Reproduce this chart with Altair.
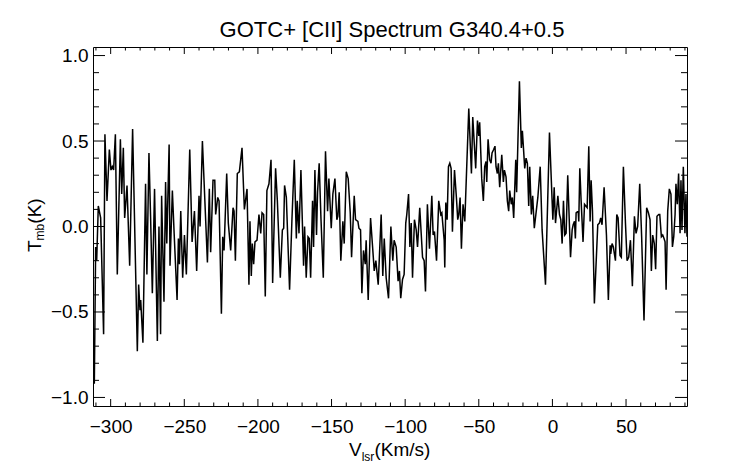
import altair as alt
import pandas as pd

# Spectrum (velocity km/s, T_mb K)
vel = [
    -311.1, -310.2, -309.5, -308.4, -306.8, -304.8, -303.9, -302.5, -300.9, -299.8,
    -298.9, -298.0, -296.8, -295.5, -293.4, -292.5, -291.4, -290.5, -288.9, -287.1,
    -285.1, -281.9, -281.0, -280.1, -279.6, -278.1, -276.3, -275.4, -274.0, -272.9,
    -271.7, -270.2, -268.3, -267.2, -266.1, -265.4, -263.8, -262.7,
    -261.9, -260.3, -259.7, -258.1, -256.9, -254.9, -254.0, -253.3, -252.4, -251.1,
    -249.9, -248.6, -246.3, -244.7, -243.1, -241.6, -240.0, -239.3, -237.7, -234.3,
    -233.0, -232.1, -230.5, -229.3, -228.7, -227.3, -226.4, -224.8, -223.9, -223.0,
    -221.2, -220.1, -218.5, -216.9, -216.2, -215.3, -214.0, -212.6,
    -210.8, -209.2, -207.4, -206.1, -205.4, -204.5, -203.8, -202.9, -202.0, -200.6,
    -199.3, -198.1, -197.2, -196.1, -195.0, -193.9, -192.5, -191.1, -190.0, -188.0,
    -186.8, -184.8, -183.4, -182.5, -181.9, -180.7, -178.5, -176.9, -175.3, -173.9,
    -173.3, -172.1, -170.8, -169.0, -168.3, -167.2, -166.0, -165.1, -164.2, -162.9,
    -162.2,
    -161.3, -160.2, -159.5, -158.4, -157.2, -155.6, -154.1, -152.7, -151.8, -150.2,
    -149.1, -147.7, -146.4, -145.7, -144.8, -143.7, -142.3, -141.4, -140.0, -138.7,
    -137.3, -136.4, -134.6, -133.7, -132.1, -131.4, -130.3, -129.4, -128.3, -127.1,
    -126.5, -125.1, -123.5, -122.2, -121.0, -119.9, -118.3, -116.3, -115.2, -114.2,
    -112.9,
    -111.3, -109.7, -108.4, -107.5, -106.1, -104.8, -103.9, -103.0, -101.8, -100.7,
    -99.6, -98.9, -97.7, -96.8, -95.9, -95.0, -93.7, -92.5, -91.6, -90.1,
    -88.2, -87.1, -86.2, -84.9, -83.5, -81.9, -81.0, -80.1, -78.7, -77.2,
    -75.8, -75.1, -73.5, -73.1, -72.4, -71.5, -70.6, -69.7, -68.8, -67.9,
    -66.5, -65.2, -64.3, -63.6, -62.7, -61.8,
    -60.7, -59.5, -56.8, -55.0, -54.1, -52.1, -50.9, -50.0, -49.4, -48.0,
    -46.9, -46.0, -45.1, -44.6, -43.7, -42.6, -41.7, -41.0, -39.9, -39.0,
    -38.3, -37.4, -36.7, -35.8, -34.4, -33.3, -32.6, -31.5, -30.6, -29.7,
    -29.0, -27.9, -27.2, -26.3, -24.9, -24.3, -22.4, -21.1, -20.4, -18.8,
    -17.9, -17.0, -16.1, -15.4, -14.3, -13.4, -12.3,
    -9.9, -8.3, -7.0, -4.7, -2.0, 0.3, 1.2, 2.1, 3.7, 4.8,
    5.7, 6.6, 7.5, 8.4, 9.3, 10.4, 12.3, 13.4, 14.1, 15.0,
    15.6, 16.1, 17.5, 17.9, 18.6, 19.5, 20.8, 21.8, 22.7, 23.6,
    24.7, 25.6, 26.3, 27.2, 28.5, 30.8, 31.9, 32.8, 33.7, 35.1,
    36.7, 38.0, 39.2,
    39.6, 40.5, 41.4, 42.8, 43.7, 44.6, 45.9, 46.8, 48.2, 49.6,
    50.7, 51.8, 53.0, 54.3, 55.7, 56.8, 57.9, 59.3, 60.6, 62.2,
    64.0, 65.2, 66.3, 67.2, 68.1, 69.2, 70.1, 71.0, 72.2, 72.9,
    74.0, 74.9, 75.8, 76.5, 77.2, 78.3, 79.4, 80.5, 81.5, 82.4,
    83.3, 83.9, 84.8, 85.7, 86.7, 87.3, 88.0, 88.9, 90.0, 90.7,
    91.4,
]
tmb = [
    -0.92, -0.12, -0.20, 0.12, 0.05, -0.63, 0.54, 0.15, 0.45, 0.33,
    0.35, 0.33, 0.54, -0.28, 0.51, 0.19, 0.46, 0.05, 0.24, -0.23,
    0.57, -0.73, -0.34, -0.49, -0.43, -0.68, 0.25, -0.28, 0.43, 0.06,
    -0.39, 0.22, -0.67, 0.00, -0.63, 0.18, -0.44, 0.26,
    -0.10, 0.48, -0.23, 0.21, -0.04, -0.43, -0.07, -0.22, 0.09, -0.30,
    -0.05, -0.28, 0.45, -0.09, 0.09, -0.26, 0.18, 0.00, 0.50, -0.21,
    0.22, -0.15, 0.27, 0.27, 0.07, 0.17, 0.15, -0.51, -0.06, -0.14,
    0.31, 0.02, -0.14, 0.11, 0.09, -0.20, 0.31, 0.32,
    0.46, 0.10, 0.22, -0.34, 0.03, -0.29, -0.10, -0.22, -0.09, -0.08,
    0.07, -0.04, 0.08, 0.07, -0.41, 0.21, 0.25, 0.39, -0.33, 0.34,
    0.15, -0.30, -0.02, -0.01, 0.24, 0.17, -0.37, 0.04, 0.39, -0.07,
    0.15, -0.04, 0.33, -0.23, 0.00, -0.30, -0.06, -0.07, -0.30, 0.15,
    -0.12,
    0.33, -0.05, 0.20, 0.37, 0.05, -0.30, 0.44, 0.09, 0.28, -0.01,
    0.19, 0.28, 0.04, 0.06, 0.20, -0.20, 0.03, -0.10, 0.32, 0.28,
    0.08, -0.18, 0.18, 0.04, 0.03, -0.01, -0.02, -0.39, -0.14, -0.22,
    -0.08, -0.43, 0.05, -0.11, -0.26, -0.20, -0.34, 0.07, -0.29, -0.07,
    -0.30,
    -0.42, 0.00, -0.20, -0.08, -0.12, -0.32, -0.26, -0.42, -0.31, -0.28,
    0.02, 0.07, 0.19, -0.12, 0.02, -0.30, 0.04, -0.02, -0.12, 0.11,
    -0.18, -0.20, -0.38, 0.13, -0.13, 0.18, -0.05, -0.03, -0.20, 0.15,
    0.07, 0.08, -0.08, -0.24, 0.14, 0.04, 0.35, 0.37, 0.34, -0.03,
    0.33, 0.17, 0.04, 0.07, 0.17, -0.13,
    0.13, 0.03, 0.69, 0.31, 0.64, 0.34, 0.62, 0.53, 0.61, 0.28,
    0.15, 0.35, 0.38, 0.26, 0.51, 0.39, 0.37, 0.43, 0.45, 0.47,
    0.35, 0.31, 0.37, 0.23, 0.42, 0.26, 0.33, 0.29, 0.15, 0.09,
    0.21, 0.13, 0.17, 0.05, 0.39, 0.20, 0.85, 0.46, 0.56, 0.34,
    0.40, 0.37, 0.12, 0.35, 0.07, 0.18, -0.01,
    0.17, 0.35, -0.02, -0.34, 0.55, 0.04, 0.23, 0.02, 0.18, 0.07,
    0.04, -0.10, 0.15, -0.05, -0.04, 0.30, -0.18, -0.02, 0.01, 0.03,
    -0.07, 0.08, 0.09, 0.03, 0.34, 0.15, -0.09, 0.13, 0.12, 0.11,
    0.47, 0.03, 0.27, 0.09, -0.45, 0.01, 0.02, 0.05, 0.01, 0.23,
    -0.05, -0.43, -0.11,
    -0.16, -0.10, -0.12, -0.20, 0.07, 0.05, -0.17, -0.18, 0.35, 0.02,
    -0.20, -0.18, -0.08, -0.35, 0.06, -0.04, 0.00, 0.25, -0.06, -0.55,
    0.11, 0.08, 0.04, -0.26, -0.05, -0.10, -0.25, 0.06, 0.07, 0.07,
    -0.06, -0.05, -0.07, -0.09, -0.37, 0.09, 0.22, 0.19, -0.12, -0.06,
    0.07, 0.25, 0.13, 0.31, -0.04, 0.27, -0.02, 0.35, -0.04, 0.19,
    -0.06,
]

x_major = [-300, -250, -200, -150, -100, -50, 0, 50]
x_minor = [-310, -290, -280, -270, -260, -240, -230, -220, -210, -190, -180, -170,
           -160, -140, -130, -120, -110, -90, -80, -70, -60, -40, -30, -20, -10,
           10, 20, 30, 40, 60, 70, 80, 90]
y_major = [-1.0, -0.5, 0.0, 0.5, 1.0]
y_minor = [-0.9, -0.8, -0.7, -0.6, -0.4, -0.3, -0.2, -0.1,
           0.1, 0.2, 0.3, 0.4, 0.6, 0.7, 0.8, 0.9]

title_text = "GOTC+ [CII] Spectrum G340.4+0.5"

W, H = 594, 359
FONT = "Liberation Sans"
FS = 19
SUB = 12

xs = alt.Scale(domain=[-312, 91.4], nice=False, zero=False)
ys = alt.Scale(domain=[-1.05, 1.05], nice=False, zero=False)

AX = alt.Axis(values=x_major, format="d", ticks=False, tickSize=0, domain=False,
              grid=False, labelFont=FONT, labelFontSize=FS, labelColor="black",
              labelPadding=11, labelOverlap=False, labelFlush=False, title=None)
AY = alt.Axis(values=y_major, format=".1f", ticks=False, tickSize=0, domain=False,
              grid=False, labelFont=FONT, labelFontSize=FS, labelColor="black",
              labelPadding=5, labelOverlap=False, labelFlush=False, title=None)

df = pd.DataFrame({"v": vel, "t": tmb})

line = alt.Chart(df).mark_line(color="black", strokeWidth=1.5, clip=True).encode(
    x=alt.X("v:Q", scale=xs, axis=AX),
    y=alt.Y("t:Q", scale=ys, axis=AY),
)

def xticks(vals, length):
    d = pd.DataFrame({"v": vals})
    bot = alt.Chart(d).mark_rule(color="black", strokeWidth=1).encode(
        x=alt.X("v:Q", scale=xs, axis=AX), y=alt.value(H), y2=alt.value(H - length))
    top = alt.Chart(d).mark_rule(color="black", strokeWidth=1).encode(
        x=alt.X("v:Q", scale=xs, axis=AX), y=alt.value(0), y2=alt.value(length))
    return [bot, top]

def yticks(vals, length):
    d = pd.DataFrame({"t": vals})
    lft = alt.Chart(d).mark_rule(color="black", strokeWidth=1).encode(
        y=alt.Y("t:Q", scale=ys, axis=AY), x=alt.value(0), x2=alt.value(length))
    rgt = alt.Chart(d).mark_rule(color="black", strokeWidth=1).encode(
        y=alt.Y("t:Q", scale=ys, axis=AY), x=alt.value(W - length), x2=alt.value(W))
    return [lft, rgt]

one = pd.DataFrame({"k": [0]})

def txt(s, x, y, size, angle=0, align="left"):
    kw = dict(text=s, font=FONT, fontSize=size, color="black", align=align,
              baseline="alphabetic")
    if angle:
        kw["angle"] = angle
    return alt.Chart(one).mark_text(**kw).encode(x=alt.value(x), y=alt.value(y))

texts = [
    txt(title_text, W / 2 + 2, -10, 22, align="center"),
    # x title: V_lsr(Km/s)
    txt("V", 256, 408.5, FS),
    txt("lsr", 268.7, 413.5, SUB),
    txt("(Km/s)", 281.4, 408.5, FS),
    # y title: T_mb(K)
    txt("T", -51.6, 205, FS, angle=270),
    txt("mb", -48.6, 193.4, SUB, angle=270),
    txt("(K)", -51.6, 176.7, FS, angle=270),
]

layers = [line] + xticks(x_major, 7) + xticks(x_minor, 3.5) + yticks(y_major, 12) + yticks(y_minor, 6) + texts

chart = alt.layer(*layers).properties(
    width=W, height=H,
    autosize=alt.AutoSizeParams(type="none"),
    padding={"left": 85, "top": 39, "right": 40, "bottom": 62},
    background="white",
).configure_view(stroke="black", strokeWidth=1)

chart.save("out.html", embed_options={"renderer": "svg", "actions": False})
